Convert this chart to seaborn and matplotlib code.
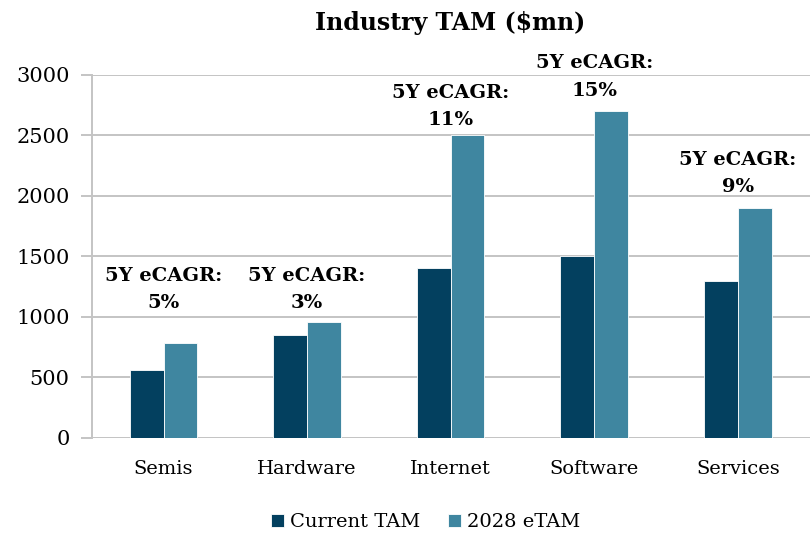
import matplotlib
matplotlib.use("Agg")
import matplotlib.pyplot as plt
import pandas as pd
import seaborn as sns

# ── Data ────────────────────────────────────────────────────────────────────
SEGMENTS = ["Semis", "Hardware", "Internet", "Software", "Services"]
CURRENT_TAM = [560, 850, 1400, 1500, 1300]
ETAM_2028 = [780, 960, 2500, 2700, 1900]
CAGR = ["5%", "3%", "11%", "15%", "9%"]
# label anchor heights (data units, bottom of the text block)
LABEL_Y = [1040, 1040, 2555, 2795, 2000]

SERIES = ["Current TAM", "2028 eTAM"]
COLORS = ["#03405F", "#3F86A0"]

df = pd.DataFrame({
    "segment": SEGMENTS * 2,
    "series": [SERIES[0]] * len(SEGMENTS) + [SERIES[1]] * len(SEGMENTS),
    "tam": CURRENT_TAM + ETAM_2028,
})

sns.set_theme(style="white")
plt.rcParams["font.family"] = ["DejaVu Serif"]
plt.rcParams["text.color"] = "black"

fig = plt.figure(figsize=(8.12, 5.34), dpi=100)
ax = fig.add_axes([0.113, 0.18, 0.884, 0.68])

sns.barplot(
    data=df, x="segment", y="tam", hue="series",
    palette=COLORS, saturation=1, width=0.47,
    edgecolor="white", linewidth=0.6, ax=ax,
)

ax.set_ylim(0, 3000)
ax.set_yticks(range(0, 3001, 500))
ax.set_xlim(-0.5, len(SEGMENTS) - 0.5)
ax.grid(axis="y", color="#C4C4C4", linewidth=1.4)
ax.set_axisbelow(True)
for side in ["top", "right", "bottom"]:
    ax.spines[side].set_visible(False)
ax.spines["left"].set_color("#C4C4C4")
ax.spines["left"].set_linewidth(1.4)
ax.axhline(0, color="#C4C4C4", linewidth=1.4, zorder=0)
ax.tick_params(axis="y", length=8, color="#C4C4C4", width=1.4,
               labelsize=15, pad=8, left=True, labelcolor="black")
ax.tick_params(axis="x", length=0, labelsize=14, pad=16, labelcolor="black")
ax.set_xlabel("")
ax.set_ylabel("")

for i, (cagr, y) in enumerate(zip(CAGR, LABEL_Y)):
    ax.text(i, y, f"5Y eCAGR:\n{cagr}", ha="center", va="bottom",
            fontsize=14, fontweight="bold", linespacing=1.65, color="black")

fig.suptitle("Industry TAM ($mn)", x=0.554, y=0.98,
             fontsize=17, fontweight="bold", color="black")

leg = ax.legend(title=None, loc="upper center", bbox_to_anchor=(0.465, -0.16),
                ncol=2, frameon=False, fontsize=14, handlelength=0.7,
                handleheight=0.7, handletextpad=0.3, columnspacing=1.4)
for t in leg.get_texts():
    t.set_color("black")

fig.savefig("out.png", dpi=100)
